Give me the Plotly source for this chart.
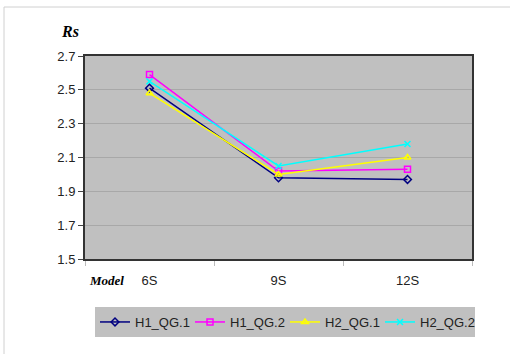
import plotly.graph_objects as go

categories = ["6S", "9S", "12S"]
h1_qg1 = [2.51, 1.98, 1.97]
h1_qg2 = [2.59, 2.02, 2.03]
h2_qg1 = [2.48, 2.00, 2.10]
h2_qg2 = [2.55, 2.05, 2.18]
y_ticks = [1.5, 1.7, 1.9, 2.1, 2.3, 2.5, 2.7]

series = [
    ("H1_QG.1", h1_qg1, "#000080", "diamond-open", 6),
    ("H1_QG.2", h1_qg2, "#FF00FF", "square-open", 6),
    ("H2_QG.1", h2_qg1, "#FFFF00", "triangle-up-open", 6),
    ("H2_QG.2", h2_qg2, "#00FFFF", "x-thin-open", 6),
]

fig = go.Figure()
for name, vals, color, sym, sz in series:
    fig.add_trace(go.Scatter(
        x=categories, y=vals, name=name, mode="lines+markers",
        line=dict(color=color, width=1.5),
        marker=dict(symbol=sym, size=sz, color=color, line=dict(color=color, width=1.5)),
    ))

W, H = 510, 354
L, R, T, B = 85, 38, 56, 95
pw, ph = W - L - R, H - T - B

def px(x):
    return (x - L) / pw

def py(y):
    return (H - B - y) / ph

fig.update_layout(
    width=W, height=H,
    margin=dict(l=L, r=R, t=T, b=B, pad=0),
    paper_bgcolor="white",
    plot_bgcolor="#C0C0C0",
    font=dict(family="Liberation Sans, Arial", size=13, color="#222"),
    xaxis=dict(
        type="category", showgrid=False, showline=True, linecolor="#333", linewidth=2,
        mirror=True, ticks="outside", tickson="boundaries", ticklen=5, tickcolor="#BBB",
        tickfont=dict(size=13), range=[-0.5, 2.5], ticklabelstandoff=8,
    ),
    yaxis=dict(
        range=[1.5, 2.7], tickvals=y_ticks, ticktext=[f"{v:.1f}" for v in y_ticks],
        showgrid=True, gridcolor="#A8A8A8", gridwidth=1,
        showline=True, linecolor="#333", linewidth=2, mirror=True,
        ticks="outside", ticklen=5, tickcolor="#444", zeroline=False,
        tickfont=dict(size=13),
    ),
    legend=dict(
        orientation="h", x=px(285), xanchor="center", y=py(307), yanchor="top",
        bgcolor="#C0C0C0", font=dict(size=13), entrywidth=50, entrywidthmode="pixels",
        tracegroupgap=0,
    ),
    showlegend=True,
    shapes=[dict(type="rect", xref="paper", yref="paper",
                 x0=px(4), x1=px(520), y0=py(370), y1=py(7),
                 line=dict(color="#D0D0D0", width=1), layer="below")],
    annotations=[
        dict(text="<b><i>Rs</i></b>", xref="paper", yref="paper", x=px(59), y=py(31),
             xanchor="left", yanchor="middle", showarrow=False,
             font=dict(family="Liberation Serif, Times New Roman", size=16, color="#000")),
        dict(text="<b><i>Model</i></b>", xref="paper", yref="paper", x=px(87), y=py(280),
             xanchor="left", yanchor="middle", showarrow=False,
             font=dict(family="Liberation Serif, Times New Roman", size=13, color="#000")),
    ],
)

fig.write_html("out.html")
